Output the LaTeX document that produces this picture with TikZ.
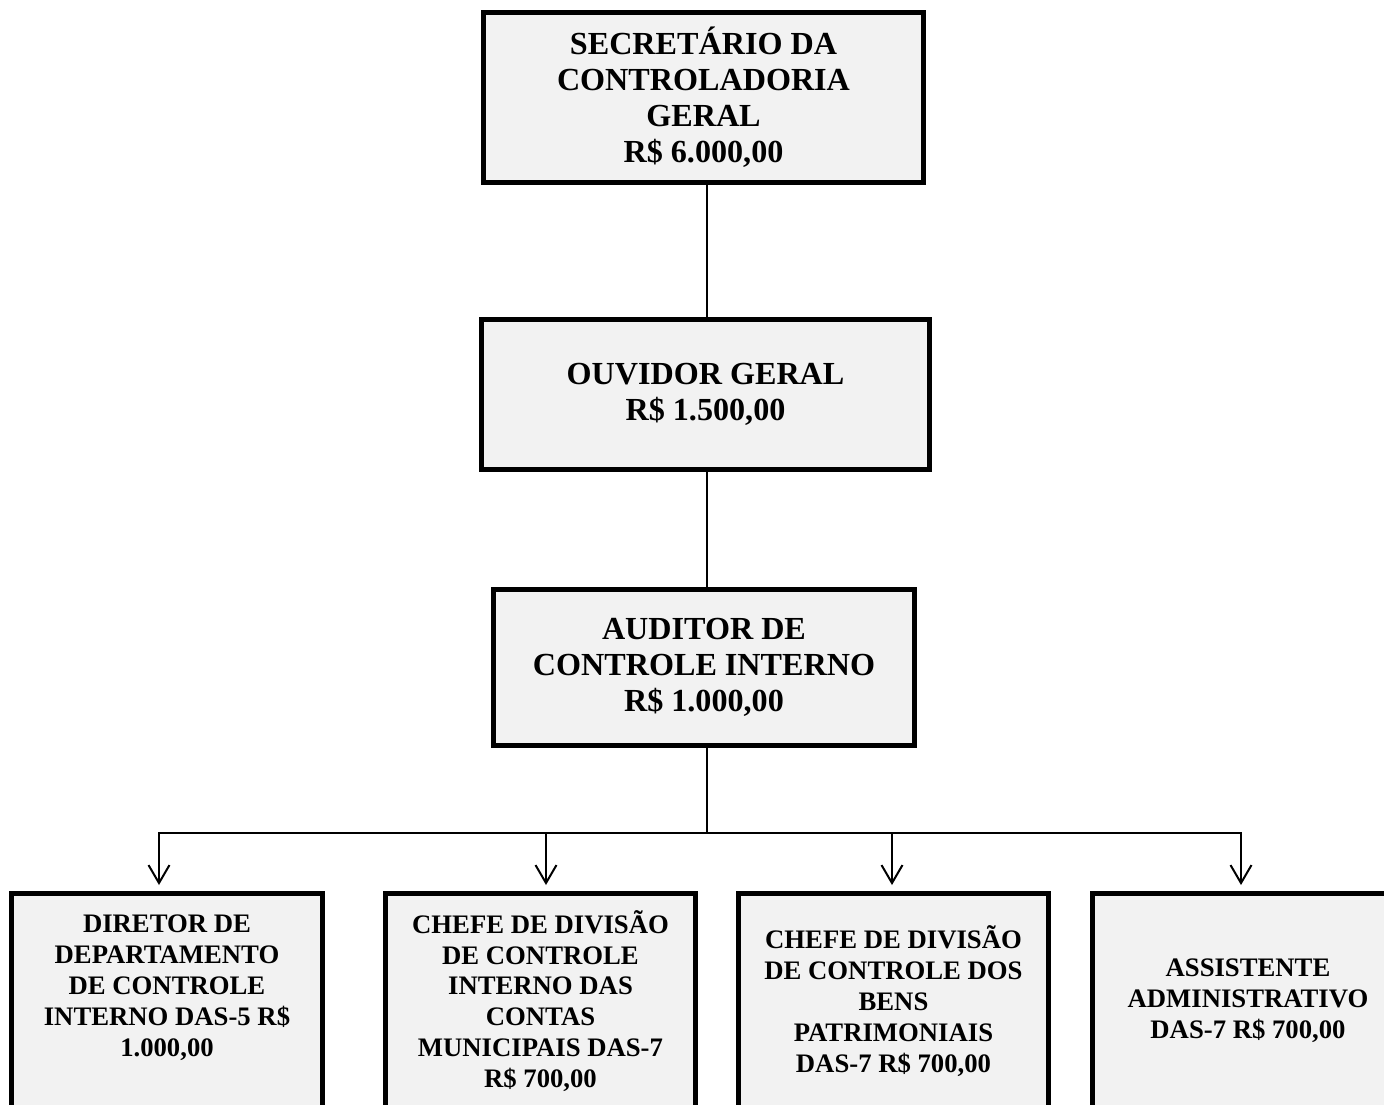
\documentclass[tikz,border=0pt]{standalone}
\usepackage{fontspec}
\setmainfont{Liberation Serif}
\usepackage{tikz}
\usetikzlibrary{arrows.meta}
\definecolor{boxfill}{HTML}{F2F2F2}

\begin{document}
\begin{tikzpicture}[x=0.02cm, y=-0.02cm,
    topbox/.style={draw, rectangle, line width=0.1cm, fill=boxfill, align=center, inner sep=0pt,
        font=\bfseries\fontsize{18.3}{20.5}\selectfont},
    lowbox/.style={draw, rectangle, line width=0.1cm, fill=boxfill, align=center, inner sep=0pt,
        minimum width=6.22cm, minimum height=4.3cm, font=\bfseries\fontsize{15.2}{17.6}\selectfont},
    conn/.style={line width=0.04cm, line cap=rect},
    arr/.style={conn, -{Straight Barb[length=0.36cm, width=0.42cm]}, shorten >=0.12cm}]
    % Page frame (bottom row runs off the page)
    \useasboundingbox (0,0) rectangle (1384,1105);
    \clip (0,0) rectangle (1384,1105);

    % Upper chain of posts
    \node[topbox, minimum width=8.8cm, minimum height=3.4cm] (sec) at (703.5,97.5)
        {SECRETÁRIO DA\\CONTROLADORIA\\GERAL\\R\$ 6.000,00};
    \node[topbox, minimum width=8.96cm, minimum height=3cm] (ouv) at (705.5,394.5)
        {OUVIDOR GERAL\\R\$ 1.500,00};
    \node[topbox, minimum width=8.42cm, minimum height=3.12cm] (aud) at (704,667.5)
        {AUDITOR DE\\CONTROLE INTERNO\\R\$ 1.000,00};

    % Lower row of posts
    \node[lowbox] (dir) at (167,1001)
        {DIRETOR DE\\DEPARTAMENTO\\DE CONTROLE\\INTERNO DAS-5 R\$\\1.000,00\\~};
    \node[lowbox] (cdc) at (540.5,1001)
        {CHEFE DE DIVISÃO\\DE CONTROLE\\INTERNO DAS\\CONTAS\\MUNICIPAIS DAS-7\\R\$ 700,00};
    \node[lowbox] (cbp) at (893.5,1001)
        {CHEFE DE DIVISÃO\\DE CONTROLE DOS\\BENS\\PATRIMONIAIS\\DAS-7 R\$ 700,00};
    \node[lowbox] (ass) at (1248,1001)
        {ASSISTENTE\\ADMINISTRATIVO\\DAS-7 R\$ 700,00};

    % Vertical trunk
    \coordinate (hub) at (707,833);
    \draw[conn] (sec.south -| hub) -- (ouv.north -| hub);
    \draw[conn] (ouv.south -| hub) -- (aud.north -| hub);
    \draw[conn] (aud.south -| hub) -- (hub);

    % Bus and arrows down to the lower row
    \coordinate (b1) at (159,833);
    \coordinate (b2) at (546,833);
    \coordinate (b3) at (892,833);
    \coordinate (b4) at (1241,833);
    \draw[conn] (b1) -- (b4);
    \foreach \b/\n in {b1/dir, b2/cdc, b3/cbp, b4/ass}
        \draw[arr] (\b) -- (\b |- \n.north);
\end{tikzpicture}
\end{document}
